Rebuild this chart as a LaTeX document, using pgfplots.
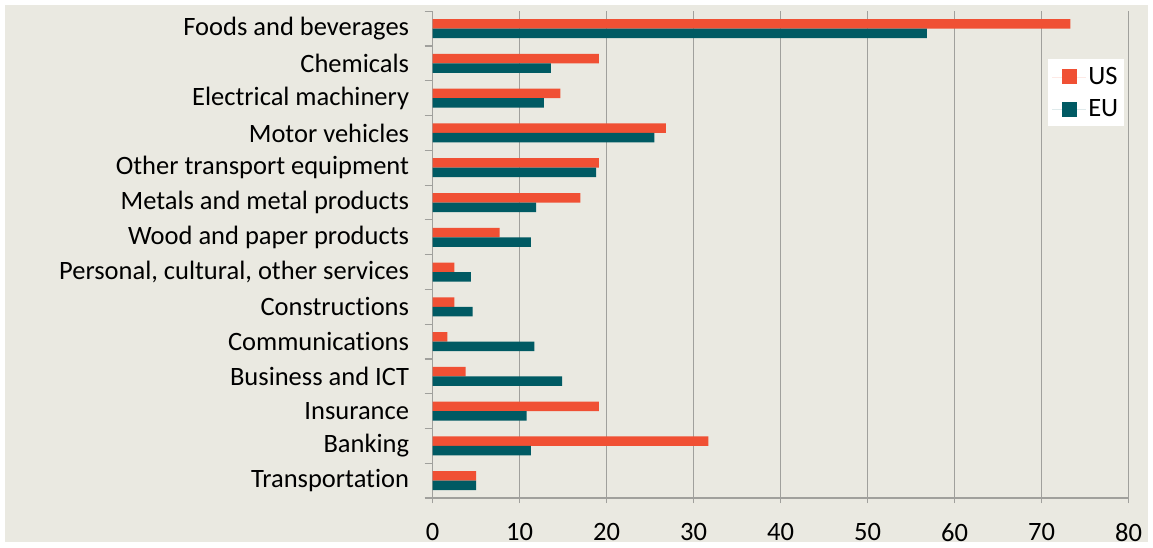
\documentclass[border=0pt]{standalone}
\usepackage{fontspec}
\setmainfont{Carlito}[Ligatures={NoCommon}]
\usepackage{pgfplots}
\usepackage{pgfplotstable}
\pgfplotsset{compat=1.18}

\definecolor{usorange}{RGB}{240,80,52}
\definecolor{euteal}{RGB}{0,90,99}
\definecolor{bgbeige}{RGB}{234,233,225}
\definecolor{gridgray}{RGB}{160,160,156}

% rows from bottom (Transportation) to top (Foods and beverages)
\pgfplotstableread{
idx us   eu
0   5.0  5.0
1   31.7 11.3
2   19.1 10.8
3   3.8  14.9
4   1.7  11.7
5   2.5  4.6
6   2.5  4.4
7   7.7  11.3
8   17.0 11.9
9   19.1 18.8
10  26.8 25.5
11  14.7 12.8
12  19.1 13.6
13  73.3 56.8
}\data

\begin{document}
\begin{tikzpicture}[x=1pt,y=1pt]
\path[use as bounding box, fill=white] (-432.6,-49) rectangle (720.4,498);
\fill[bgbeige] (-427.6,-44) rectangle (715.4,493);
\begin{axis}[
    at={(0,0)}, anchor=south west,
    scale only axis,
    width=696pt, height=486.7pt,
    xbar, bar width=9.5pt,
    xmin=0, xmax=80,
    ymin=-0.5, ymax=13.5,
    axis x line*=bottom, axis y line*=left,
    axis line style={gridgray, line width=1.2pt, -},
    xtick={0,10,...,80},
    xmajorgrids,
    grid style={gridgray, line width=1.2pt},
    tick align=outside,
    major tick length=5pt,
    xtick style={gridgray, line width=1.2pt},
    ytick={0,...,13},
    ytick style={draw=none},
    yticklabels={Transportation, Banking, Insurance, Business and ICT,
        Communications, Constructions, {Personal, cultural, other services},
        Wood and paper products, Metals and metal products,
        Other transport equipment, Motor vehicles, Electrical machinery,
        Chemicals, Foods and beverages},
    extra y ticks={-0.5,0.5,...,13.5},
    extra y tick labels={},
    extra y tick style={ytick style={draw=gridgray, line width=1.2pt}, major tick length=8pt, grid=none},
    /pgf/number format/assume math mode=true,
    tick label style={font=\fontsize{26.5}{30}\selectfont},
    yticklabel style={xshift=-15pt},
    xticklabel style={yshift=-17pt},
    legend style={at={(0.994,0.902)}, anchor=north east, fill=white, draw=none,
        font=\fontsize{26.5}{30}\selectfont, inner xsep=4pt, inner ysep=6pt, row sep=10pt},
    legend cell align=left,
    legend image code/.code={
        \path (0pt,0pt) rectangle (34pt,0pt);
        \path[#1, draw=none] (10pt,-7.5pt) rectangle (25pt,7.5pt);},
]
\addplot[fill=usorange, draw=none, bar shift=4.75pt] table[x=us, y=idx] {\data};
\addlegendentry{US\hspace{6pt}}
\addplot[fill=euteal, draw=none, bar shift=-4.75pt] table[x=eu, y=idx] {\data};
\addlegendentry{EU\hspace{6pt}}
\end{axis}
\end{tikzpicture}
\end{document}
